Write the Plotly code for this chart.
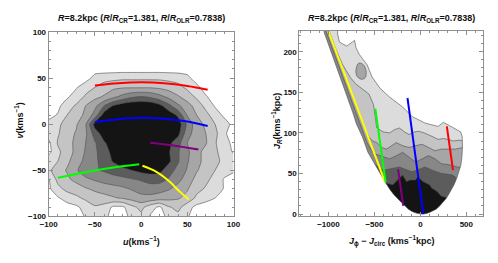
import plotly.graph_objects as go

W, H = 498, 263
FONT = "Liberation Sans, Arial, sans-serif"

# ---------------- left panel: (u, v) density levels ----------------
u_grid = [-100, -90, -80, -70, -60, -50, -40, -30, -20, -10, 0, 10, 20, 30, 40, 50, 60, 70, 80, 90, 100]
v_grid_top_down = [100, 90, 80, 70, 60, 50, 40, 30, 20, 10, 0, -10, -20, -30, -40, -50, -60, -70, -80, -90, -100]
uv_levels_top_down = [
    [0, 0, 0, 0, 0, 0, 0, 0, 0, 0, 0, 0, 0, 0, 0, 0, 0, 0, 0, 0, 0],
    [0, 0, 0, 0, 0, 0, 0, 0, 0, 0, 0, 0, 0, 0, 0, 0, 0, 0, 0, 0, 0],
    [0, 0, 0, 0, 0, 0, 0, 0, 0, 0, 0, 0, 0, 0, 0, 0, 0, 0, 0, 0, 0],
    [0, 0, 0, 0, 0, 0, 0, 0, 0, 0, 0, 0, 0, 0, 0, 0, 0, 0, 0, 0, 0],
    [0, 0, 0, 0, 0, 0, 0, 0, 0, 0, 0, 0, 0, 0, 0, 0, 0, 0, 0, 0, 0],
    [0, 0, 0, 0, 0, 0.9, 1.1, 1.2, 1.3, 1.3, 1.3, 1.3, 1.3, 1.2, 1.1, 0.8, 0, 0, 0, 0, 0],
    [0, 0, 0, 0.4, 1.2, 1.5, 2.0, 2.3, 2.4, 2.4, 2.4, 2.4, 2.3, 2.1, 1.8, 1.3, 0.8, 0, 0, 0, 0],
    [0, 0, 0.3, 1.1, 1.6, 2.2, 2.6, 3.2, 3.8, 4.3, 4.5, 4.3, 3.8, 3.2, 2.6, 2.0, 1.3, 0.6, 0, 0, 0],
    [0, 0.2, 1.2, 1.6, 2.5, 3.2, 4.5, 5.6, 6.1, 6.3, 6.4, 6.3, 5.8, 4.8, 3.7, 2.9, 2.1, 1.2, 0.4, 0, 0],
    [0.1, 0.6, 1.5, 2.1, 2.7, 3.9, 6.0, 6.3, 6.4, 6.4, 6.4, 6.4, 6.3, 6.1, 5.3, 3.4, 2.5, 1.8, 1.0, 0.3, 0],
    [0.9, 1.3, 1.9, 2.4, 3.4, 5.9, 6.4, 6.5, 6.5, 6.5, 6.5, 6.5, 6.5, 6.4, 6.1, 4.3, 2.9, 2.3, 1.5, 0.9, 0.2],
    [1.0, 1.4, 2.1, 2.6, 3.3, 5.0, 6.0, 6.4, 6.5, 6.5, 6.5, 6.5, 6.4, 6.2, 5.8, 3.9, 3.0, 2.5, 1.8, 0.6, 0.2],
    [0.3, 1.6, 2.2, 2.7, 3.5, 4.4, 5.4, 6.0, 6.3, 6.4, 6.4, 6.3, 6.1, 5.8, 4.9, 3.5, 3.0, 2.6, 1.6, 0.8, 0.3],
    [0.2, 1.3, 2.0, 2.8, 3.6, 4.3, 5.1, 5.8, 6.2, 6.3, 6.3, 6.2, 6.0, 5.6, 4.6, 3.7, 2.8, 2.2, 1.7, 1.0, 0.4],
    [1.2, 1.5, 2.3, 3.0, 3.8, 4.3, 4.9, 5.6, 6.1, 6.2, 6.2, 6.2, 6.1, 5.7, 4.6, 3.6, 2.8, 2.2, 1.8, 1.2, 1.0],
    [1.3, 2.0, 2.6, 3.4, 4.0, 4.4, 4.6, 4.9, 5.2, 5.5, 5.8, 5.9, 5.8, 4.9, 4.2, 3.4, 2.6, 2.0, 1.5, 0.9, 0.6],
    [0.4, 1.8, 2.3, 2.8, 3.3, 3.6, 3.9, 4.1, 4.2, 4.4, 4.6, 4.9, 4.9, 4.4, 3.8, 3.0, 2.2, 1.7, 1.2, 0.4, 0.2],
    [0.3, 1.2, 1.8, 2.0, 2.4, 2.7, 2.9, 3.1, 3.3, 3.6, 3.9, 4.0, 3.9, 3.6, 3.1, 2.6, 1.8, 1.4, 1.2, 0.4, 0.2],
    [0.2, 0.4, 0.9, 1.3, 1.7, 2.0, 2.2, 2.4, 2.6, 2.9, 3.2, 3.2, 3.0, 2.8, 2.6, 2.2, 1.3, 0.8, 0.5, 0.3, 0.2],
    [0, 0, 0.1, 0.3, 0.9, 1.4, 1.1, 0.3, 0.3, 1.2, 1.8, 0.9, 0.3, 1.4, 1.8, 0.9, 0.2, 0.1, 0.1, 0, 0],
    [0, 0, 0, 0, 0.6, 1.2, 0.8, 0.1, 0.1, 0.8, 1.2, 0.4, 0.1, 0.8, 1.2, 0.6, 0, 0, 0, 0, 0],
]

# overlay curves in (u, v)
red_u = [-50, -25, 0, 25, 50, 72]
red_v = [42, 44.5, 45.5, 44.5, 41.5, 37.5]
blue_u = [-50, -25, 0, 25, 50, 72]
blue_v = [2.5, 5.5, 7, 6, 3, -2]
purple_u = [10, 35, 62]
purple_v = [-20, -23, -27.5]
green_u = [-90, -60, -30, -2]
green_v = [-58, -52, -47, -43.5]
yellow_u = [1.5, 17, 31, 41.5, 51.5]
yellow_v = [-45, -51.8, -62.3, -72.8, -81.5]

# ---------------- right panel: action-space band boundaries ----------------
edge_x = [-1050, -980, -905, -840, -775, -735, -695, -630, -570, -520, -465, -425, -380, -330, -290, -230,
          -180, -130, -90, -40, 15, 60, 100, 140, 172, 210, 250, 280, 312, 340, 370, 395, 418, 440, 452, 458, 455, 440]
edge_y = [225, 203, 180, 160, 140, 125, 111, 95, 76, 66, 56, 47, 39, 30, 24, 17,
          11, 6, 3, 1, 0, 0.5, 2, 4, 6, 10, 15, 19, 25, 30, 37, 44, 52, 60, 70, 82, 95, 101]

band1_x = [-1100, -900, -900, -880, -850, -800, -740, -715, -700, -666, -620, -579, -526, -439, -333, -193,
           -88, 0, 53, 193, 250, 333, 400, 440, 470]
band1_y = [235, 235, 222, 212, 210, 207, 212, 214, 205, 197, 190, 184, 169, 155, 144, 132,
           120, 115, 112, 108, 113, 108, 103, 101, 101]
band2_x = [-1100, -1000, -990, -925, -850, -760, -700, -640, -560, -510, -490, -474, -400, -333, -280, -228,
           -170, -123, -70, -18, 40, 88, 140, 193, 250, 298, 360, 420, 470]
band2_y = [235, 235, 225, 205, 185, 168, 160, 155, 148, 135, 120, 106, 101, 100, 104, 106,
           101, 98, 101, 102, 100, 98, 95, 92, 93, 92, 90, 91, 90]
band3_x = [-1100, -1030, -1000, -934, -868, -802, -736, -670, -604, -560, -520, -474, -420, -368, -310, -263,
           -190, -123, -60, 18, 90, 158, 230, 298, 380, 470]
band3_y = [235, 235, 225, 205, 185, 165, 145, 125, 105, 95, 90, 88, 82, 80, 85, 88,
           84, 82, 84, 86, 82, 78, 80, 80, 80, 82]
band4_x = [-1100, -1040, -1025, -960, -895, -830, -765, -700, -640, -580, -530, -490, -440, -380, -333, -260,
           -193, -120, -53, 20, 88, 160, 228, 300, 403, 470]
band4_y = [235, 235, 225, 205, 185, 165, 145, 125, 105, 88, 78, 74, 72, 70, 68, 72,
           76, 70, 64, 68, 72, 68, 62, 61, 58, 57]
band5_x = [-620, -560, -500, -450, -403, -330, -228, -160, -88, -20, 52, 130, 228, 300, 351, 420]
band5_y = [85, 70, 62, 57, 54, 56, 58, 55, 52, 55, 58, 54, 50, 49, 48, 42]
band6_x = [-430, -370, -300, -230, -193, -150, -110, -53, -30, 0, 30, 100, 123, 180, 228, 300]
band6_y = [40, 38, 36, 44, 48, 40, 42, 42, 46, 43, 40, 36, 32, 28, 22, 20]
island_x = [-700, -670, -620, -590, -600, -640, -690]
island_y = [178, 186, 184, 176, 168, 166, 170]

# straight overlay lines in (J_phi - J_circ, J_R)
yellow_j = [-1000, -385]
yellow_jr = [225, 40]
green_j = [-490, -378]
green_jr = [130, 39]
purple_j = [-242, -186]
purple_jr = [55, 10]
blue_j = [-140, 32]
blue_jr = [143, 0]
red_j = [288, 355]
red_jr = [108, 54]

level_colors = ["#ffffff", "#dcdcdc", "#c4c4c4", "#a6a6a6", "#878787", "#5c5c5c", "#141414"]
CONTOUR_LINE = "#4e4e4e"

fig = go.Figure()

# left contour
fig.add_trace(go.Contour(
    x=u_grid, y=v_grid_top_down[::-1], z=uv_levels_top_down[::-1],
    xaxis="x", yaxis="y",
    contours=dict(start=0.5, end=5.5, size=1, coloring="fill", showlines=True),
    colorscale=[[i / 6, c] for i, c in enumerate(level_colors)],
    line=dict(color=CONTOUR_LINE, width=0.6, smoothing=0.5),
    showscale=False, hoverinfo="skip"))

for cx, cy, col in [(red_u, red_v, "#ff0000"), (blue_u, blue_v, "#0000ff"), (purple_u, purple_v, "#800080"),
                    (green_u, green_v, "#00ff00"), (yellow_u, yellow_v, "#ffff00")]:
    fig.add_trace(go.Scatter(x=cx, y=cy, mode="lines", line=dict(color=col, width=2, shape="spline"),
                             xaxis="x", yaxis="y", hoverinfo="skip", showlegend=False))

# right panel bands
bands = [(band1_x, band1_y), (band2_x, band2_y), (band3_x, band3_y),
         (band4_x, band4_y), (band5_x, band5_y), (band6_x, band6_y)]
for k, (bx, by) in enumerate(bands):
    px = list(bx) + [bx[-1], bx[0], bx[0]]
    py = list(by) + [-50, -50, by[0]]
    fig.add_trace(go.Scatter(x=px, y=py, mode="lines", fill="toself", fillcolor=level_colors[k + 1],
                             line=dict(color=CONTOUR_LINE, width=0.6), xaxis="x2", yaxis="y2",
                             hoverinfo="skip", showlegend=False))
fig.add_trace(go.Scatter(x=island_x + [island_x[0]], y=island_y + [island_y[0]], mode="lines", fill="toself",
                         fillcolor=level_colors[3], line=dict(color=CONTOUR_LINE, width=0.6, shape="spline"),
                         xaxis="x2", yaxis="y2", hoverinfo="skip", showlegend=False))
# white outside of the accessible region
mask_x = [-1400, -1055] + edge_x + [445, 800, 800, -1400]
mask_y = [250, 250] + edge_y + [104, 104, -50, -50]
fig.add_trace(go.Scatter(x=mask_x, y=mask_y, mode="lines", fill="toself", fillcolor="#ffffff",
                         line=dict(width=0), xaxis="x2", yaxis="y2", hoverinfo="skip", showlegend=False))
fig.add_trace(go.Scatter(x=edge_x, y=edge_y, mode="lines", line=dict(color=CONTOUR_LINE, width=0.6),
                         xaxis="x2", yaxis="y2", hoverinfo="skip", showlegend=False))

for cx, cy, col in [(yellow_j, yellow_jr, "#ffff00"), (green_j, green_jr, "#00ff00"),
                    (purple_j, purple_jr, "#800080"), (blue_j, blue_jr, "#0000ff"), (red_j, red_jr, "#ff0000")]:
    fig.add_trace(go.Scatter(x=cx, y=cy, mode="lines", line=dict(color=col, width=2),
                             xaxis="x2", yaxis="y2", hoverinfo="skip", showlegend=False))

FRAME = "#8f8f8f"
tickfont = dict(family=FONT, size=8, color="#111111", weight="bold")


def ax(domain, rng, dtick, minor, anchor):
    return dict(domain=domain, range=rng, tick0=0, dtick=dtick, anchor=anchor,
                showline=True, linecolor=FRAME, linewidth=1, mirror="allticks",
                ticks="inside", ticklen=4, tickwidth=0.8, tickcolor=FRAME,
                showgrid=False, zeroline=False, tickfont=tickfont,
                minor=dict(dtick=minor, ticks="inside", ticklen=2, tickwidth=0.6, tickcolor=FRAME, showgrid=False))


ydom = [(H - 220) / H, (H - 29) / H]
fig.update_layout(
    width=W, height=H, margin=dict(l=0, r=0, t=0, b=0),
    paper_bgcolor="white", plot_bgcolor="white", showlegend=False,
    xaxis=ax([41 / W, 232 / W], [-100, 100], 50, 10, "y"),
    yaxis=ax(ydom, [-100, 100], 50, 10, "x"),
    xaxis2=ax([300 / W, 490 / W], [-1316, 684], 500, 100, "y2"),
    yaxis2=ax([(H - 220) / H, (H - 28) / H], [-3, 225.5], 50, 10, "x2"),
)

title = "<i>R</i>=8.2kpc (<i>R</i>/<i>R</i><sub>CR</sub>=1.381, <i>R</i>/<i>R</i><sub>OLR</sub>=0.7838)"
lab = dict(family=FONT, size=9, color="#111111", weight="bold")
annots = [
    dict(text=title, x=136.5 / W, y=1 - 15 / H),
    dict(text=title, x=395 / W, y=1 - 15 / H),
    dict(text="<i>u</i>(kms<sup>−1</sup>)", x=136.5 / W, y=1 - 245 / H),
    dict(text="<i>J</i><sub>ϕ</sub> − <i>J</i><sub>circ</sub> (kms<sup>−1</sup>kpc)", x=395 / W, y=1 - 245 / H),
    dict(text="<i>v</i>(kms<sup>−1</sup>)", x=10 / W, y=1 - 121 / H, textangle=-90),
    dict(text="<i>J<sub>R</sub></i>(kms<sup>−1</sup>kpc)", x=277 / W, y=1 - 121 / H, textangle=-90),
]
for a in annots:
    fig.add_annotation(xref="paper", yref="paper", showarrow=False, xanchor="center", yanchor="middle",
                       font=lab, **a)

fig.write_html("out.html", config={"displayModeBar": False},
               post_script="document.body.style.margin='0';document.body.style.padding='0';")
